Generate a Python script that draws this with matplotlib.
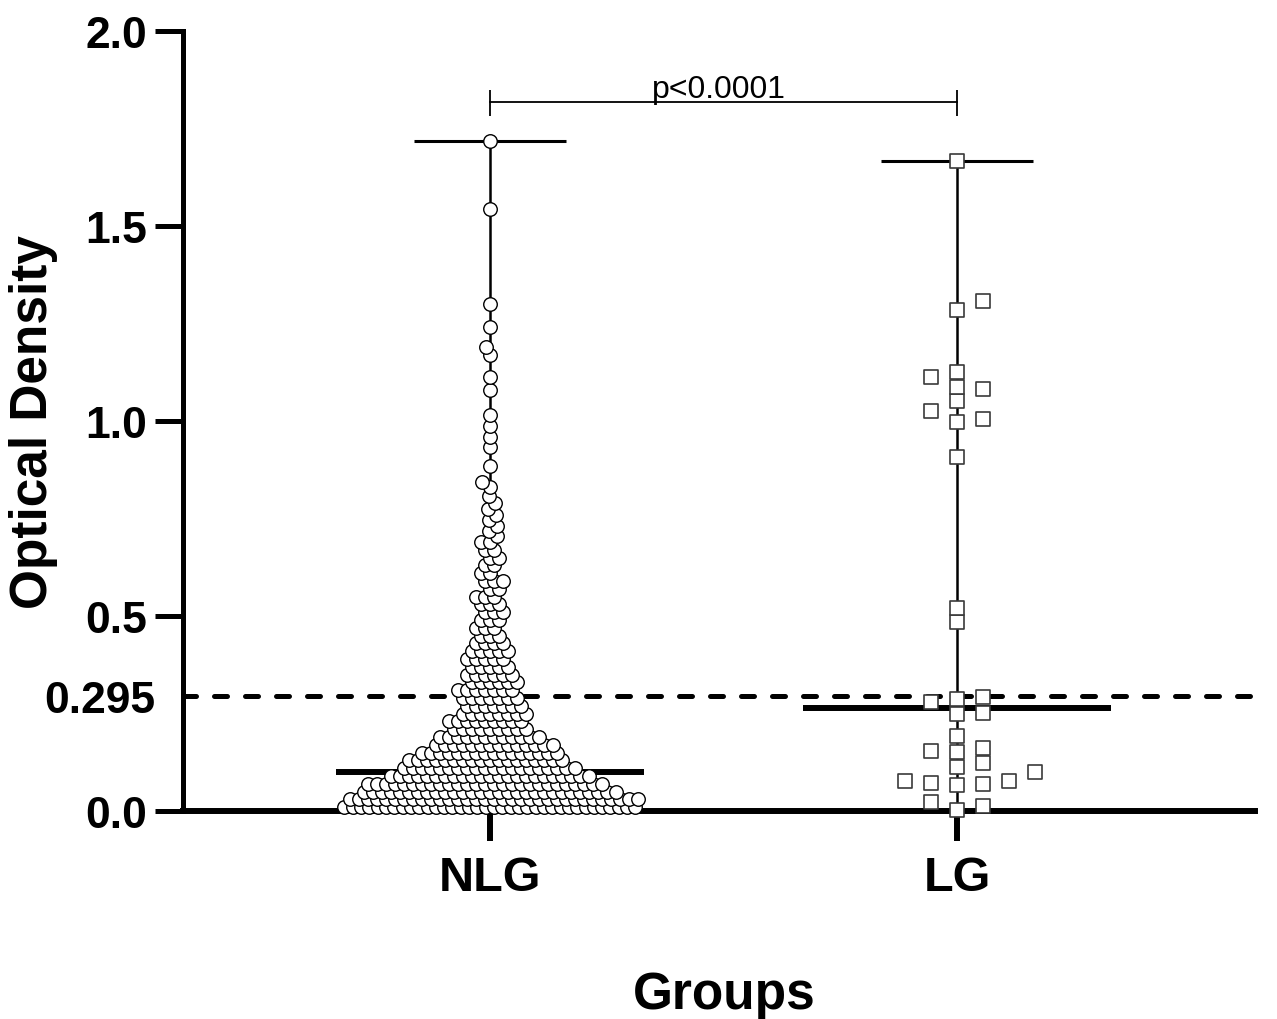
import numpy as np
import matplotlib
matplotlib.use("Agg")
import matplotlib.pyplot as plt

plt.rcParams['font.family'] = ['Liberation Sans', 'DejaVu Sans']

groups = ['NLG', 'LG']
cutoff = 0.295
median_od = [0.10, 0.265]
p_text = 'p<0.0001'

# NLG: dense part read as counts per 0.02 OD bin, sparse upper tail read point by point
nlg_bin_od = [0.01, 0.03, 0.05, 0.07, 0.09, 0.11, 0.13, 0.15, 0.17, 0.19,
              0.21, 0.23, 0.25, 0.27, 0.29, 0.31, 0.33, 0.35, 0.37, 0.39,
              0.41, 0.43, 0.45, 0.47, 0.49, 0.51, 0.53, 0.55, 0.57, 0.59,
              0.61, 0.63, 0.65, 0.67, 0.69]
nlg_bin_n = [36, 33, 29, 27, 23, 20, 18, 16, 14, 12,
             9, 9, 8, 7, 7, 7, 6, 6, 5, 5,
             5, 4, 3, 3, 3, 3, 3, 3, 2, 3,
             2, 2, 2, 2, 2]
nlg_high_od = [1.718, 1.544, 1.300, 1.241, 1.190, 1.169, 1.113, 1.080, 1.015,
               0.987, 0.959, 0.933, 0.885, 0.844, 0.831, 0.808, 0.790, 0.774,
               0.760, 0.745, 0.731, 0.718, 0.705]

lg_od = [1.667, 1.308, 1.285, 1.126, 1.113, 1.087, 1.082, 1.051, 1.026, 1.005,
         0.997, 0.908, 0.521, 0.485, 0.292, 0.287, 0.279, 0.251, 0.249, 0.192,
         0.162, 0.154, 0.151, 0.123, 0.113, 0.100, 0.077, 0.077, 0.072, 0.069,
         0.067, 0.023, 0.013, 0.003]

fig = plt.figure(figsize=(12.77, 10.20), dpi=100)
ax = fig.add_axes([0.1433, 0.2039, 0.8395, 0.7647])
ax.set_xlim(-0.657, 1.638)
ax.set_ylim(0, 2.0)

# pixel scale of the data axes
p0 = ax.transData.transform((0, 0))
p1 = ax.transData.transform((1, 1))
px_x = p1[0] - p0[0]
px_y = p1[1] - p0[1]


def beeswarm(vals, placed_x, placed_y, dist_ok, cands):
    """greedy swarm in pixel space, returns x offsets (px)"""
    px_list = list(placed_x)
    py_list = list(placed_y)
    out = []
    for v in vals:
        y = v * px_y
        ax_ = np.array(px_list)
        ay_ = np.array(py_list)
        chosen = cands[-1]
        for c in cands:
            if len(ax_) == 0 or dist_ok(c - ax_, y - ay_):
                chosen = c
                break
        out.append(chosen)
        px_list.append(chosen)
        py_list.append(y)
    return np.array(out)


# --- NLG layout: rows per bin, staggered, squeezed into the column width
step = 9.0
diam = 14.0
col_w = 305.0
nlg_x, nlg_y = [], []
for i, (v, n) in enumerate(zip(nlg_bin_od, nlg_bin_n)):
    s = step
    if n > 1 and (n - 1) * step + diam > col_w:
        s = (col_w - diam) / (n - 1)
    off = (np.arange(n) - (n - 1) / 2) * s
    if s == step and (n + i) % 2 == 0:
        off = off + (step / 2) * (1 if (i // 2) % 2 == 0 else -1)
    nlg_x.extend(off)
    nlg_y.extend([v] * n)

nlg_x = np.array(nlg_x)
nlg_y = np.array(nlg_y)
high_sorted = sorted(nlg_high_od)
cands_c = sorted(np.arange(-60, 61, 1.0), key=lambda c: (abs(c), c))
high_x = beeswarm(high_sorted, nlg_x, nlg_y * px_y,
                  lambda dx, dy: np.all(np.hypot(dx, dy) >= 9), cands_c)
nlg_all_x = np.concatenate([nlg_x, high_x]) / px_x
nlg_all_y = np.concatenate([nlg_y, high_sorted])

# --- LG layout
lg_sorted = sorted(lg_od)
cands_s = sorted(np.arange(-130, 131, 13.0), key=lambda c: (abs(c), -c))
lg_x = beeswarm(lg_sorted, [], [],
                lambda dx, dy: np.all((np.abs(dx) >= 24) | (np.abs(dy) >= 13)),
                cands_s) / px_x + 1

# --- lines behind the markers
ax.axhline(cutoff, xmin=0, xmax=1.009, color='k', lw=3.6,
           linestyle=(0, (2.6, 3.6)), dash_capstyle='round', clip_on=False, zorder=1)
all_groups = [nlg_all_y, np.array(lg_od)]
for k, vals in enumerate(all_groups):
    ax.hlines(median_od[k], k - 0.33, k + 0.33, color='k', lw=4.3, zorder=2)
    ax.vlines(k, vals.min(), vals.max(), color='k', lw=1.8, zorder=2)
    ax.hlines([vals.max(), vals.min()], k - 0.162, k + 0.162, color='k', lw=2.2, zorder=2)

ax.scatter(nlg_all_x, nlg_all_y, s=95, marker='o', facecolor='white',
           edgecolor='black', linewidth=1.0, zorder=4, clip_on=False)
ax.scatter(lg_x, lg_sorted, s=88, marker='s', facecolor='white',
           edgecolor='#3a3a3a', linewidth=1.2, zorder=4, clip_on=False)

# significance bracket
ax.plot([0, 1], [1.818, 1.818], color='k', lw=1.3, zorder=2)
ax.vlines([0, 1], 1.782, 1.849, color='k', lw=1.3, zorder=2)
ax.text(0.49, 1.830, p_text, ha='center', va='baseline', fontsize=23)

# axes styling
for side in ['top', 'right']:
    ax.spines[side].set_visible(False)
ax.spines['left'].set_linewidth(3.6)
ax.spines['bottom'].set_linewidth(4.3)
for side in ['left', 'bottom']:
    ax.spines[side].set_capstyle('projecting')

ax.set_yticks([0, 0.5, 1.0, 1.5, 2.0])
ax.set_yticks([cutoff], ['0.295'], minor=True)
ax.set_xticks([0, 1], groups)
ax.tick_params(axis='y', which='major', length=20, width=3.6, pad=6, labelsize=32)
ax.tick_params(axis='y', which='minor', length=0, pad=20, labelsize=32)
ax.tick_params(axis='x', length=21.6, width=4.3, pad=10, labelsize=35)
for lbl in ax.get_xticklabels() + ax.get_yticklabels() + ax.get_yticklabels(minor=True):
    lbl.set_fontweight('bold')

ax.set_ylabel('Optical Density', fontsize=37, fontweight='bold')
ax.set_xlabel('Groups', fontsize=37, fontweight='bold')
ax.yaxis.set_label_coords(-0.1166, 0.5)
ax.xaxis.set_label_coords(0.505, -0.204)

fig.savefig('out.png', dpi=100)
